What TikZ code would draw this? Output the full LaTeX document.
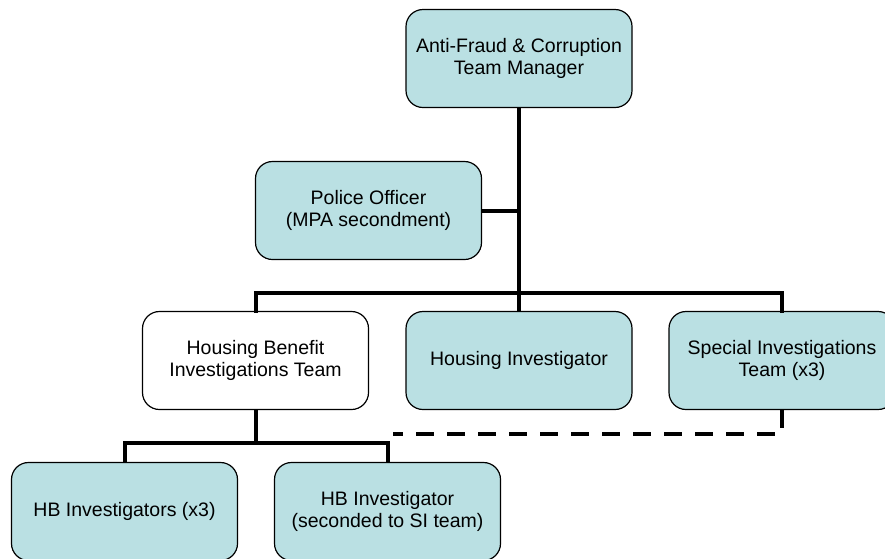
\documentclass[tikz,border=0pt]{standalone}
\usepackage{fontspec}
\setmainfont{Liberation Sans}
\definecolor{boxfill}{RGB}{186,224,227}
\begin{document}
\begin{tikzpicture}[x=1pt,y=-1pt,
  orgbox/.style={draw=black, line width=1.2pt, rounded corners=17pt, fill=boxfill,
    minimum width=226pt, minimum height=98pt, align=center, inner sep=2pt,
    font=\fontsize{19.5}{22.5}\selectfont},
  whitebox/.style={orgbox, fill=white},
  link/.style={line width=4pt},
  dlink/.style={line width=4pt, dash pattern=on 18pt off 13pt}]
\useasboundingbox (0,0) rectangle (885,558);
\node[orgbox] (top) at (519,58.5) {Anti-Fraud \& Corruption\\Team Manager};
\node[orgbox] (police) at (368.5,210.5) {Police Officer\\(MPA secondment)};
\node[whitebox] (hbteam) at (255.5,360.5) {Housing Benefit\\Investigations Team};
\node[orgbox] (housing) at (519,360.5) {Housing Investigator};
\node[orgbox] (special) at (782,360.5) {Special Investigations\\Team (x3)};
\node[orgbox] (hbinv) at (124.5,511.5) {HB Investigators (x3)};
\node[orgbox] (hbsec) at (387.5,511.5) {HB Investigator\\(seconded to SI team)};
\coordinate (bar) at (519,293);
\coordinate (hbbar) at (255.5,443);
\coordinate (dend) at (393,434);
\draw[link] (top.south) -- (bar);
\draw[link] (police.east) -- (police.east -| top.south);
\draw[link, line cap=rect] (hbteam.north) |- (bar) -| (special.north);
\draw[link] (bar) -- (housing.north);
\draw[link] (hbteam.south) -- (hbbar);
\draw[link] (hbinv.north) |- (hbbar) -| (hbsec.north);
\draw[dlink] (special.south) |- (dend);
\end{tikzpicture}
\end{document}
